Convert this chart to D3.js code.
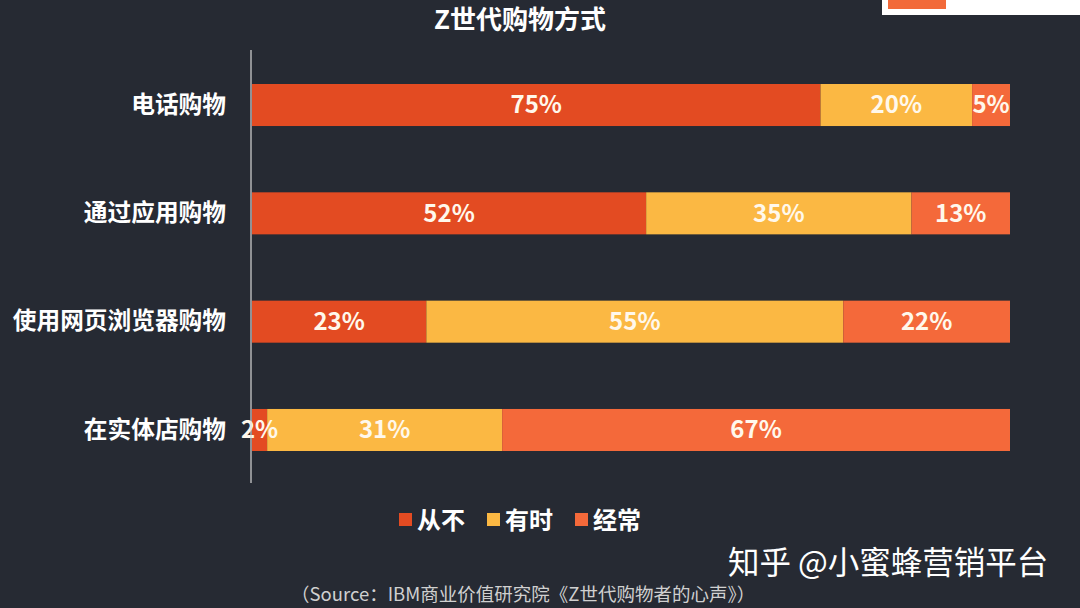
<!DOCTYPE html>
<html><head><meta charset="utf-8">
<script src="https://cdn.jsdelivr.net/npm/d3@7"></script>
<style>
html,body{margin:0;padding:0;background:#262a33;}
svg{display:block;font-family:"Noto Sans CJK SC","Noto Sans",sans-serif;}
</style></head>
<body>
<svg id="c" width="1080" height="608"></svg>
<script>
const categories = ["电话购物","通过应用购物","使用网页浏览器购物","在实体店购物"];
const seriesNames = ["从不","有时","经常"];
const never = [75,52,23,2];
const sometimes = [20,35,55,31];
const often = [5,13,22,67];
const colors = ["#e34b22","#fbb843","#f4693a"];

const svg = d3.select("#c");
const W = 1080, H = 608;
svg.append("rect").attr("width",W).attr("height",H).attr("fill","#262a33");

// watermark box top-right
svg.append("rect").attr("x",882).attr("y",-2).attr("width",200).attr("height",17).attr("fill","#ffffff");
svg.append("rect").attr("x",888).attr("y",-2).attr("width",58).attr("height",11).attr("fill","#f26a3a");

const m = {left:252, right:1010, top:84, bottom:451};
const x = d3.scaleLinear().domain([0,100]).range([m.left,m.right]);
const y = d3.scaleBand().domain(categories).range([m.top,m.bottom]).paddingInner(0.612).paddingOuter(0);

const rows = categories.map((c,i)=>({cat:c, vals:[never[i],sometimes[i],often[i]]}));
const stackData = rows.map(r=>{const o={cat:r.cat}; seriesNames.forEach((s,j)=>o[s]=r.vals[j]); return o;});
const stack = d3.stack().keys(seriesNames)(stackData);

const g = svg.append("g");
stack.forEach((layer,li)=>{
  g.selectAll(null).data(layer).enter().append("rect")
    .attr("x",d=>x(d[0])).attr("y",d=>y(d.data.cat))
    .attr("width",d=>x(d[1])-x(d[0])).attr("height",y.bandwidth())
    .attr("fill",colors[li]);
});
stack.forEach((layer,li)=>{
  g.selectAll(null).data(layer).enter().append("text")
    .attr("x",d=>(x(d[0])+x(d[1]))/2)
    .attr("y",d=>y(d.data.cat)+y.bandwidth()/2)
    .attr("dy","0.35em").attr("text-anchor","middle")
    .attr("fill","#fff8ec").attr("font-size",24).attr("font-weight","bold")
    .text(d=>(d[1]-d[0])+"%");
});

// axis line
const yAxis = d3.axisLeft(y).tickSize(0).tickPadding(25);
const ax = svg.append("g").attr("transform",`translate(${m.left-1},0)`).call(yAxis);
ax.select(".domain").attr("stroke","#d8d8d8").attr("stroke-width",1.2).attr("d",`M0,50V483`);
ax.selectAll("text").attr("fill","#ffffff").attr("font-size",23.7).attr("font-weight","bold")
  .attr("font-family","'Noto Sans CJK SC',sans-serif");

// title
svg.append("text").attr("x",520).attr("y",29).attr("text-anchor","middle")
  .attr("fill","#ffffff").attr("font-size",26).attr("font-weight","bold").text("Z世代购物方式");

// legend
const legX = [399,487,575];
seriesNames.forEach((s,i)=>{
  svg.append("rect").attr("x",legX[i]).attr("y",513).attr("width",13).attr("height",13).attr("fill",colors[i]);
  svg.append("text").attr("x",legX[i]+18).attr("y",520).attr("dy","0.36em")
    .attr("fill","#ffffff").attr("font-size",24).attr("font-weight","bold").text(s);
});

// watermark text
svg.append("text").attr("x",728).attr("y",574).attr("fill","#ffffff").attr("font-size",31.5)
  .text("知乎 @小蜜蜂营销平台");

// source
svg.append("text").attr("x",291).attr("y",601).attr("fill","#d0d0d0").attr("font-size",18.5)
  .text("（Source：IBM商业价值研究院《Z世代购物者的心声》）");
</script>
</body></html>
